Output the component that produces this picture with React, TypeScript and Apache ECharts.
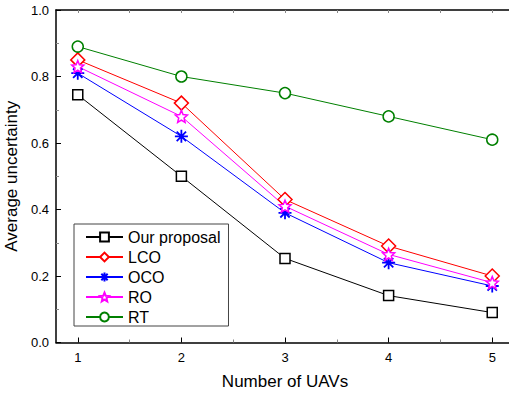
import React, { useEffect, useRef } from "react";
import * as echarts from "echarts";

const uavs = [1, 2, 3, 4, 5];
const ourProposal = [0.745, 0.5, 0.253, 0.141, 0.09];
const lco = [0.85, 0.72, 0.43, 0.29, 0.2];
const oco = [0.81, 0.62, 0.39, 0.24, 0.17];
const ro = [0.83, 0.68, 0.41, 0.265, 0.18];
const rt = [0.89, 0.8, 0.75, 0.68, 0.61];
const majorX = [1, 2, 3, 4, 5];
const minorX = [1.5, 2.5, 3.5, 4.5];

const STAR =
  "path://M0,-1L0.2645,-0.364L0.951,-0.309L0.428,0.139L0.588,0.809L0,0.45L-0.588,0.809L-0.428,0.139L-0.951,-0.309L-0.2645,-0.364Z";
const ASTER =
  "path://M0,-1L0,1M-1,0L1,0M-0.72,-0.72L0.72,0.72M-0.72,0.72L0.72,-0.72";

const FONT = "Liberation Sans, Arial, sans-serif";

function pairs(vals: number[]) {
  return uavs.map((u, i) => [u, vals[i]]);
}

export default function App() {
  const ref = useRef<HTMLDivElement>(null);
  useEffect(() => {
    if (!ref.current) return;
    const chart = echarts.init(ref.current, null, { renderer: "svg" });
    const xBase = {
      type: "value" as const,
      min: 0.79,
      max: 5.21,
      splitLine: { show: false },
    };
    const mkSeries = (
      name: string,
      vals: number[],
      color: string,
      symbol: string,
      size: number,
      bw: number
    ) => ({
      name,
      type: "line",
      data: pairs(vals),
      xAxisIndex: 0,
      yAxisIndex: 0,
      symbol,
      symbolSize: size,
      lineStyle: { color, width: 1 },
      itemStyle: {
        color: symbol === ASTER ? "none" : "#fff",
        borderColor: color,
        borderWidth: bw,
      },
      emphasis: { disabled: true },
    });
    chart.setOption({
      animation: false,
      backgroundColor: "#fff",
      textStyle: { fontFamily: FONT },
      grid: {
        left: 56,
        top: 10,
        right: -5,
        bottom: 54.5,
        containLabel: false,
        outerBoundsMode: "none",
      },
      legend: {
        orient: "vertical",
        left: 74,
        top: 224,
        padding: [5, 8, 1, 11],
        itemWidth: 37,
        itemHeight: 11,
        itemGap: 4,
        borderColor: "#444",
        borderWidth: 1,
        backgroundColor: "#fff",
        textStyle: { fontSize: 16, color: "#000", fontFamily: FONT },
        data: ["Our proposal", "LCO", "OCO", "RO", "RT"],
      },
      xAxis: [
        {
          ...xBase,
          position: "bottom",
          name: "Number of UAVs",
          nameLocation: "middle",
          nameGap: 30,
          nameTextStyle: { fontSize: 17, color: "#000", fontFamily: FONT },
          axisLine: { onZero: false, lineStyle: { color: "#000", width: 1.5 } },
          axisTick: { inside: true, length: 5, customValues: majorX, lineStyle: { color: "#000" } },
          axisLabel: { customValues: majorX, margin: 8, fontSize: 13, color: "#000" },
        },
        {
          ...xBase,
          position: "bottom",
          axisLine: { show: false },
          axisTick: { inside: true, length: 3, customValues: minorX, lineStyle: { color: "#888" } },
          axisLabel: { show: false },
        },
        {
          ...xBase,
          position: "top",
          axisLine: { onZero: false, lineStyle: { color: "#000", width: 1.5 } },
          axisTick: { inside: true, length: 3, customValues: majorX, lineStyle: { color: "#888" } },
          axisLabel: { show: false },
        },
        {
          ...xBase,
          position: "top",
          axisLine: { show: false },
          axisTick: { inside: true, length: 3, customValues: minorX, lineStyle: { color: "#888" } },
          axisLabel: { show: false },
        },
      ],
      yAxis: {
        type: "value",
        min: 0,
        max: 1,
        interval: 0.2,
        name: "Average uncertainty",
        nameLocation: "middle",
        nameGap: 27,
        nameTextStyle: { fontSize: 17, color: "#000", fontFamily: FONT },
        splitLine: { show: false },
        axisLine: { show: true, lineStyle: { color: "#000", width: 1.5 } },
        axisTick: { show: true, inside: true, length: 5, lineStyle: { color: "#000" } },
        minorTick: { show: true, splitNumber: 2, length: 3, lineStyle: { color: "#888" } },
        axisLabel: {
          margin: 7,
          fontSize: 13,
          color: "#000",
          formatter: (v: number) => v.toFixed(1),
        },
      },
      series: [
        mkSeries("Our proposal", ourProposal, "#000000", "rect", 10, 1.5),
        mkSeries("LCO", lco, "#ff0000", "diamond", 14, 1.5),
        mkSeries("OCO", oco, "#0000ff", ASTER, 13, 1.8),
        mkSeries("RO", ro, "#ff00ff", STAR, 12, 1.5),
        mkSeries("RT", rt, "#008000", "circle", 11, 1.5),
      ],
    });
    return () => chart.dispose();
  }, []);
  return (
    <div
      ref={ref}
      style={{ position: "fixed", left: 0, top: 0, width: 509, height: 397 }}
    />
  );
}
